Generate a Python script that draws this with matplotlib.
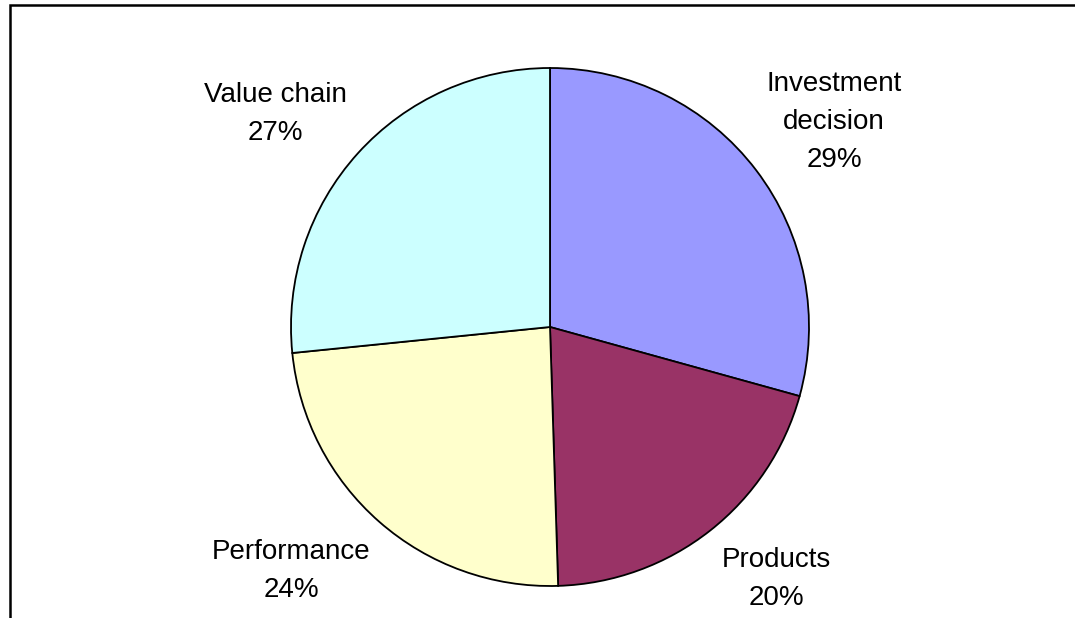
import matplotlib
matplotlib.use("Agg")
import matplotlib.pyplot as plt
import numpy as np
from matplotlib.patches import Rectangle

categories = ["Investment\ndecision", "Products", "Performance", "Value chain"]
values = [29.3, 20.2, 23.9, 26.6]
colors = ["#9999FF", "#993366", "#FFFFCC", "#CCFFFF"]

plt.rcParams['font.family'] = ['Liberation Sans', 'DejaVu Sans']

W, H = 1075, 618
fig = plt.figure(figsize=(W / 100, H / 100), dpi=100)
fig.patch.set_facecolor("white")

R = 259.0
cx, cy = 550.0, 327.0
S = 600.0
ax = fig.add_axes([(cx - S / 2) / W, (H - cy - S / 2) / H, S / W, S / H])

wedges, _ = ax.pie(values, colors=colors, startangle=90, counterclock=False,
                   wedgeprops=dict(edgecolor="black", linewidth=1.3),
                   radius=1.0)
lim = S / 2 / R
ax.set_xlim(-lim, lim)
ax.set_ylim(-lim, lim)
ax.set_aspect("equal")
ax.axis("off")
for w in wedges:
    w.set_clip_on(False)

# label centres in pie-radius units (layout only)
label_pos = [(1.097, 0.790), (0.873, -0.974), (-1.0, -0.943), (-1.062, 0.821)]

total = sum(values)
for cat, v, (x, y) in zip(categories, values, label_pos):
    ax.text(x, y, f"{cat}\n{round(100 * v / total):d}%", ha="center", va="center",
            fontsize=20, linespacing=1.6, clip_on=False)

border = Rectangle((10 / W, -0.1), 1.2, (H - 5.5) / H + 0.1, transform=fig.transFigure,
                   fill=False, edgecolor="black", linewidth=1.8)
fig.add_artist(border)

fig.savefig("out.png", dpi=100)
